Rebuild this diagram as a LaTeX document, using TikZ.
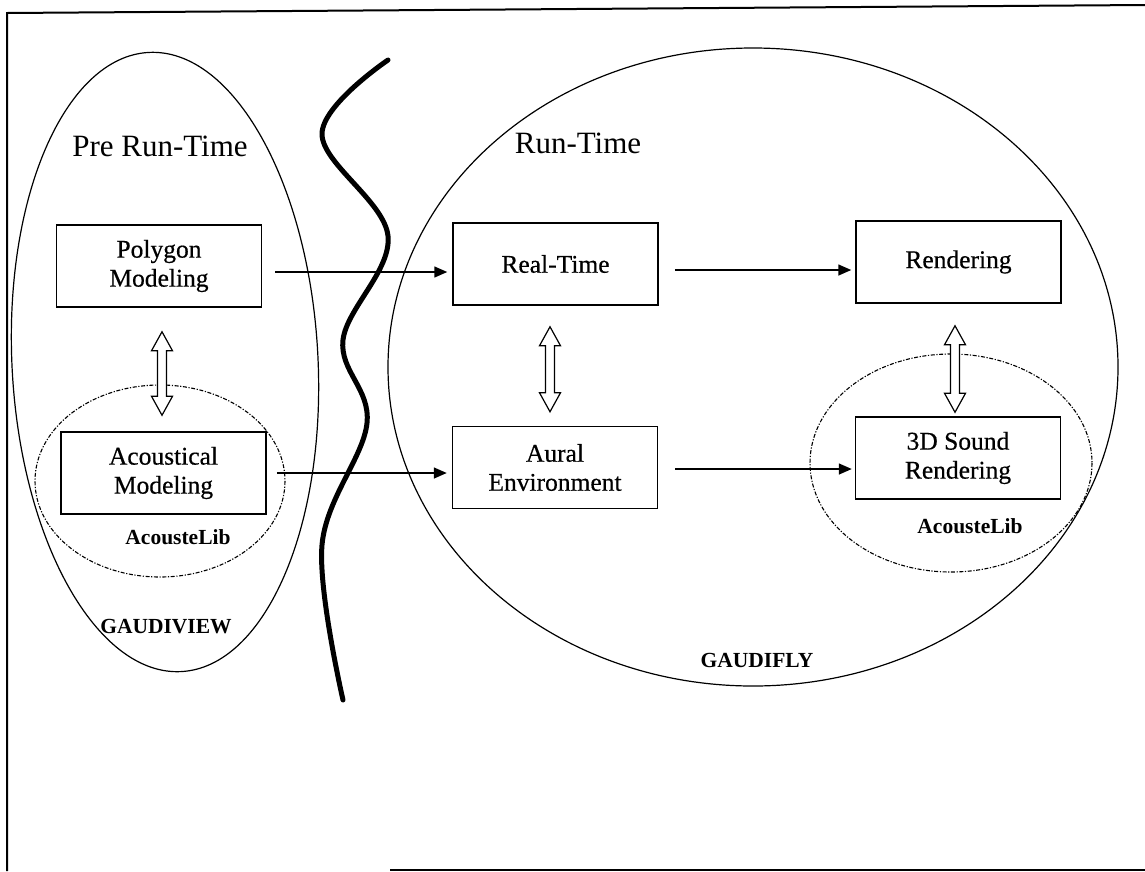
\documentclass[tikz,border=0pt]{standalone}
\usepackage{fontspec}
\setmainfont{Liberation Serif}
\newfontfamily\boxfont[FakeBold=0.5]{Liberation Serif}
\usetikzlibrary{calc,arrows.meta}
\begin{document}
\begin{tikzpicture}[x=1pt,y=-1pt,
  box/.style={draw, line width=1.5pt, minimum width=205pt, minimum height=82pt,
    align=center, inner sep=0pt, font=\boxfont\fontsize{25.5}{29}\selectfont},
  lbl/.style={anchor=base, inner sep=0pt, font=\fontsize{31}{36}\selectfont},
  blbl/.style={anchor=base, inner sep=0pt, font=\bfseries\fontsize{21.5}{24}\selectfont},
  arr/.style={line width=1.5pt, -{Triangle[length=13pt,width=11pt]}},
  dbl/.style={line width=1.2pt, fill=white},
  wave/.style={line width=5pt, line cap=round, line join=round},
  region/.style={line width=1.2pt},
  lib/.style={line width=1.1pt, dash pattern=on 4pt off 1.6pt on 1.2pt off 1.6pt},
  frame/.style={line width=2pt}]
\useasboundingbox (0,0) rectangle (1145,871);

% frame
\draw[frame] (1145,5) -- (7,13) -- (7,871);
\draw[frame] (390,870) -- (1145,870);

% regions
\draw[region, rotate around={3:(165,362)}] (165,362) ellipse [x radius=153, y radius=310];
\draw[region] (753,367) ellipse [x radius=365, y radius=319];
\draw[lib] (160,481) ellipse [x radius=125, y radius=96];
\draw[lib] (951,463) ellipse [x radius=141, y radius=109];

% wavy divider
\draw[wave] plot[smooth, tension=0.6] coordinates
  {(388,60) (322,134) (388,236) (343,340) (367,423) (322,545) (343,700)};

% labels
\node[lbl] (pre) at (160,156) {Pre Run-Time};
\node[lbl] (run) at (578,153) {Run-Time};
\node[blbl] (lib1) at (178,544) {AcousteLib};
\node[blbl] (lib2) at (970,533) {AcousteLib};
\node[blbl] (gv) at (166,633) {GAUDIVIEW};
\node[blbl] (gf) at (757,667) {GAUDIFLY};

% boxes
\node[box, fill=white] (poly) at (159,266) {Polygon\\Modeling};
\node[box, fill=white] (acou) at (163.5,473) {Acoustical\\Modeling};
\node[box, fill=white] (rt) at (555.5,264) {Real-Time};
\node[box, fill=white] (aural) at (555,467.5) {Aural\\Environment};
\node[box, fill=white] (rend) at (958.5,262) {Rendering};
\node[box, fill=white] (snd) at (958,458) {3D Sound\\Rendering};

% flow arrows
\draw[arr] ($(poly.east)+(13,6)$) -- ($(rt.west)+(-5,8)$);
\draw[arr] ($(rt.east)+(16,6)$) -- ($(rend.west)+(-4,8)$);
\draw[arr] ($(acou.east)+(10,0)$) -- ($(aural.west)+(-5,5.5)$);
\draw[arr] ($(aural.east)+(17,1.5)$) -- ($(snd.west)+(-3,11)$);

% hollow double arrows
\newcommand{\hollowdbl}[2]{%
  \draw[dbl] let \p1=(#1), \p2=(#2) in
    (\x1,\y1) -- (\x1-10.5pt,\y1-19pt) -- (\x1-4.5pt,\y1-19pt)
    -- (\x2-4.5pt,\y2+19pt) -- (\x2-10.5pt,\y2+19pt) -- (\x2,\y2)
    -- (\x2+10.5pt,\y2+19pt) -- (\x2+4.5pt,\y2+19pt)
    -- (\x1+4.5pt,\y1-19pt) -- (\x1+10.5pt,\y1-19pt) -- cycle;}
\coordinate (d1t) at ($(poly.south)+(3,24)$);
\coordinate (d1b) at ($(acou.north)+(-1.5,-16)$);
\coordinate (d2t) at ($(rt.south)+(-5.5,21)$);
\coordinate (d2b) at ($(aural.north)+(-5,-14)$);
\coordinate (d3t) at ($(rend.south)+(-3.5,22)$);
\coordinate (d3b) at ($(snd.north)+(-3,-4)$);
\hollowdbl{d1t}{d1b}
\hollowdbl{d2t}{d2b}
\hollowdbl{d3t}{d3b}
\end{tikzpicture}
\end{document}
